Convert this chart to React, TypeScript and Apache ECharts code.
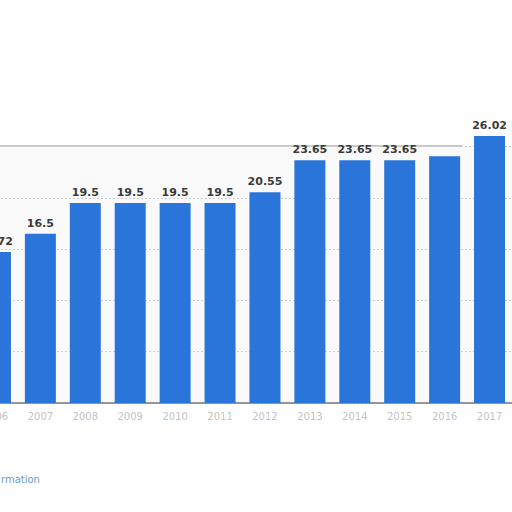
import { useEffect, useRef } from 'react';
import * as echarts from 'echarts';

const years = ['2006', '2007', '2008', '2009', '2010', '2011', '2012', '2013', '2014', '2015', '2016', '2017'];
const prices = [14.72, 16.5, 19.5, 19.5, 19.5, 19.5, 20.55, 23.65, 23.65, 23.65, 24.05, 26.02];
// the 2016 label is not visible in the picture
const hiddenLabels = ['2016'];

// the chart is wider than the page and shifted left, as in the cropped picture
const SHIFT = 27;

export default function App() {
  const chartRef = useRef(null);

  useEffect(() => {
    const chart = echarts.init(chartRef.current, null, { renderer: 'svg' });
    const option = {
      animation: false,
      backgroundColor: '#ffffff',
      grid: {
        left: 0,
        right: 0,
        top: 146.5,
        bottom: 109,
        show: true,
        backgroundColor: '#fafafa',
        borderWidth: 0,
      },
      xAxis: {
        type: 'category',
        data: years,
        axisTick: { show: false },
        axisLine: { lineStyle: { color: '#777', width: 1.5 } },
        axisLabel: { color: '#c4c4c4', fontSize: 10, margin: 8, fontFamily: 'DejaVu Sans' },
      },
      yAxis: {
        type: 'value',
        min: 0,
        max: 25,
        interval: 5,
        axisLabel: { show: false },
        axisLine: { show: false },
        splitLine: { lineStyle: { color: '#cfcfcf', type: [2, 2] } },
      },
      series: [
        {
          type: 'bar',
          data: prices.map((v, i) => ({
            value: v,
            label: { show: !hiddenLabels.includes(years[i]) },
          })),
          barWidth: 31,
          clip: false,
          itemStyle: { color: '#2a75d9' },
          label: {
            show: true,
            position: 'top',
            distance: 5,
            color: '#3a3a3a',
            fontWeight: 'bold',
            fontSize: 11,
            fontFamily: 'DejaVu Sans',
          },
        },
      ],
      graphic: [
        {
          type: 'line',
          shape: { x1: SHIFT, y1: 146, x2: SHIFT + 462, y2: 146 },
          style: { stroke: '#c8c8c8', lineWidth: 2 },
        },
        {
          type: 'text',
          x: SHIFT + 1,
          y: 479,
          style: {
            text: 'rmation',
            align: 'left',
            verticalAlign: 'middle',
            fill: '#6b9cc4',
            fontSize: 10,
            fontFamily: 'DejaVu Sans',
          },
        },
      ],
    };
    chart.setOption(option);
    return () => {
      chart.dispose();
    };
  }, []);

  return (
    <div
      ref={chartRef}
      style={{ position: 'absolute', left: -SHIFT, top: 0, width: 512 + SHIFT + 'px', height: '512px' }}
    />
  );
}
